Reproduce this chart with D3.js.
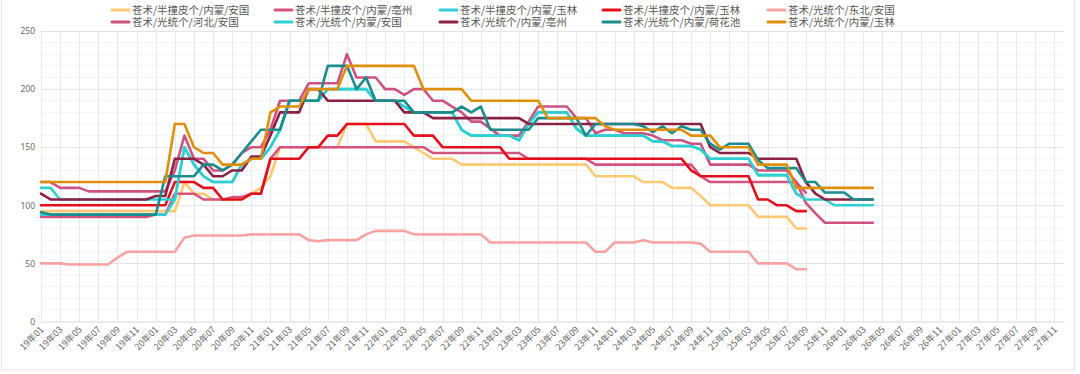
<!DOCTYPE html>
<html><head><meta charset="utf-8">
<script src="https://cdn.jsdelivr.net/npm/d3@7"></script>
<style>body{margin:0;background:#fff}svg{display:block}</style>
</head><body><svg id="c" width="1080" height="374"></svg>
<script>
const yearLabels = ["19","20","21","22","23","24","25","26","27"];
const monthLabels = ["01","02","03","04","05","06","07","08","09","10","11","12"];
const categories = yearLabels.flatMap(y => monthLabels.map(m => y + "年" + m));
const tickLabels = categories.filter((d, i) => i % 2 === 0);
const yTicks = [0, 50, 100, 150, 200, 250];

const seriesNames = [
  "苍术/半撞皮个/内蒙/安国", "苍术/半撞皮个/内蒙/亳州", "苍术/半撞皮个/内蒙/玉林",
  "苍术/半撞皮个/内蒙/玉林", "苍术/光统个/东北/安国", "苍术/光统个/河北/安国",
  "苍术/光统个/内蒙/安国", "苍术/光统个/内蒙/亳州", "苍术/光统个/内蒙/荷花池",
  "苍术/光统个/内蒙/玉林"
];
const seriesColors = ["#ffc874", "#d4547f", "#32d0d6", "#e3101b", "#f7a3a3",
  "#cc5282", "#30cfd2", "#8b2045", "#1b8b8c", "#e08f0d"];

const s1 = [95,95,95,95,95,95,95,95,95,95,95,95,95,95,
  95,120,110,110,105,105,105,105,110,115,
  125,150,150,150,150,150,150,150,
  170,170,170,155,155,155,155,150,145,140,140,140,
  135,135,135,135,135,135,135,135,135,135,135,135,135,135,
  125,125,125,125,125,120,120,120,115,115,115,108,
  100,100,100,100,100,90,90,90,90,80,80];
const s2 = [90,90,90,90,90,90,90,90,90,90,90,90,
  92,92,110,110,110,105,105,105,107,107,110,110,
  140,150,150,150,150,150,150,150,150,150,150,150,150,150,150,150,150,
  145,145,145,145,145,145,145,145,145,145,
  140,140,140,140,140,140,140,
  135,135,135,135,135,135,135,135,135,135,135,
  125,120,120,120,120,120,120,120,120,120,120,111];
const s3 = [92,92,92,92,92,92,92,92,92,92,92,92,92,92,
  105,150,135,125,120,120,120,135,140,140,150,165,
  190,190,190,190,200,200,200,200,200,190,190,190,185,
  180,180,180,180,180,165,160,160,160,160,160,156,170,
  180,180,180,180,166,160,160,160,160,160,160,160,
  155,155,151,151,151,148,140,140,140,140,140,
  126,126,126,126,110,105];
const s4 = [100,100,100,100,100,100,100,100,100,100,100,100,100,100,
  120,120,120,115,115,105,105,105,110,110,
  140,140,140,140,150,150,160,160,
  170,170,170,170,170,170,170,
  160,160,160,
  150,150,150,150,150,150,150,
  140,140,140,140,140,140,140,140,140,140,140,140,140,140,140,140,140,140,140,
  130,125,125,125,125,125,125,105,105,100,100,95,95];
const s5 = [50,50,50,49,49,49,49,49,55,60,60,60,60,60,60,
  72,74,74,74,74,74,74,75,75,75,75,75,75,
  70,69,70,70,70,70,75,78,78,78,78,
  75,75,75,75,75,75,75,75,
  68,68,68,68,68,68,68,68,68,68,68,
  60,60,68,68,68,70,68,68,68,68,68,67,
  60,60,60,60,60,50,50,50,50,45,45];
const s6 = [120,120,115,115,115,112,112,112,112,112,112,112,112,112,
  130,160,140,140,130,130,135,145,150,150,165,190,190,190,
  205,205,205,205,230,210,210,210,200,200,195,200,200,
  190,190,185,180,172,172,166,160,160,160,172,185,185,185,185,175,175,
  162,165,165,162,162,162,160,156,156,156,153,153,
  135,135,135,135,135,130,130,130,130,120,102,93,85,85,85,85,85,85];
const s7 = [115,115,105,105,105,105,105,105,105,105,105,105,105,105,105,
  150,135,125,120,120,120,135,140,140,150,165,
  190,190,190,190,200,200,200,200,200,190,190,190,185,
  180,180,180,180,180,165,160,160,160,160,160,156,170,
  180,180,180,180,166,160,160,160,160,160,160,160,
  155,155,151,151,151,148,140,140,140,140,140,
  126,126,126,126,110,105,105,105,100,100,100,100,100];
const s8 = [110,105,105,105,105,105,105,105,105,105,105,105,108,108,
  140,140,140,135,125,125,130,130,142,142,160,180,180,180,
  200,200,190,190,190,190,190,190,190,190,180,180,180,
  175,175,175,175,175,175,175,175,175,175,
  170,170,170,170,170,170,170,170,170,170,170,170,170,170,170,170,170,170,170,
  150,145,145,145,145,140,140,140,140,140,120,110,105,105,105,105,105,105];
const s9 = [94,92,92,92,92,92,92,92,92,92,92,92,92,
  125,125,125,125,135,135,130,135,145,155,165,165,165,
  190,190,190,190,220,220,220,200,210,190,190,190,190,
  180,180,180,180,180,185,180,185,165,165,165,165,165,
  175,175,175,175,175,160,170,170,170,170,170,168,163,168,162,168,
  165,165,153,148,153,153,153,139,132,132,132,132,120,120,111,111,111,105,105,105];
const s10 = [120,120,120,120,120,120,120,120,120,120,120,120,120,120,
  170,170,150,145,145,135,135,135,140,140,180,185,185,185,
  200,200,200,200,220,220,220,220,220,220,220,220,
  200,200,200,200,200,190,190,190,190,190,190,190,190,
  175,175,175,175,175,175,168,165,165,165,165,165,165,165,165,
  160,160,160,150,150,150,150,135,135,135,135,115,115,115,115,115,115,115,115,115];
const seriesValues = [s1, s2, s3, s4, s5, s6, s7, s8, s9, s10];

const svg = d3.select("#c");
const plotL = 41, plotR = 1064, plotT = 31, plotB = 321.5;
const x = d3.scalePoint().domain(categories).range([plotL, plotR]);
const y = d3.scaleLinear().domain([0, 250]).range([plotB, plotT]);

svg.append("rect").attr("x", 1.5).attr("y", -2).attr("width", 1073).attr("height", 372)
  .attr("fill", "none").attr("stroke", "#e2e2e2");

const g = svg.append("g");
g.selectAll(".hm").data(d3.range(0, 251, 10).filter(v => v % 50 !== 0)).join("line")
  .attr("x1", plotL).attr("x2", plotR).attr("y1", d => y(d)).attr("y2", d => y(d))
  .attr("stroke", "#f3f3f3").attr("stroke-width", 1);
g.selectAll(".vg").data(tickLabels).join("line")
  .attr("x1", d => Math.round(x(d)) + 0.5).attr("x2", d => Math.round(x(d)) + 0.5)
  .attr("y1", plotT).attr("y2", plotB)
  .attr("stroke", "#e9e9e9").attr("stroke-width", 1);
g.selectAll(".hg").data(yTicks.slice(1)).join("line")
  .attr("x1", plotL).attr("x2", plotR).attr("y1", d => Math.round(y(d)) + 0.5).attr("y2", d => Math.round(y(d)) + 0.5)
  .attr("stroke", "#e4e4e4").attr("stroke-width", 1);

const yAxis = svg.append("g").attr("transform", `translate(${plotL},0)`)
  .call(d3.axisLeft(y).tickValues(yTicks).tickSize(0).tickPadding(6));
yAxis.select(".domain").remove();
yAxis.selectAll("text").attr("fill", "#666").attr("font-size", 8.5)
  .attr("font-family", "'Noto Sans', sans-serif");

const xAxis = svg.append("g").attr("transform", `translate(0,${plotB})`)
  .call(d3.axisBottom(x).tickValues(tickLabels).tickSize(0).tickPadding(4));
xAxis.select(".domain").attr("stroke", "#d6d6d6");
xAxis.selectAll("text").attr("fill", "#666").attr("font-size", 9)
  .attr("font-family", "'Noto Sans CJK SC', sans-serif")
  .attr("text-anchor", "end").attr("dy", "0.3em")
  .attr("transform", "translate(-2,4) rotate(-45)");

const line = d3.line().x((d, i) => x(categories[i])).y(d => y(d));
seriesValues.forEach((vals, k) => {
  svg.append("path").datum(vals).attr("d", line)
    .attr("fill", "none").attr("stroke", seriesColors[k]).attr("stroke-width", 2.6)
    .attr("stroke-linejoin", "round").attr("stroke-linecap", "round");
});

const legX = [112, 275, 440, 603, 768];
const legY = [10, 22];
seriesNames.forEach((n, k) => {
  const col = k % 5, row = Math.floor(k / 5);
  const lg = svg.append("g").attr("transform", `translate(${legX[col]},${legY[row]})`);
  lg.append("line").attr("x1", 0).attr("x2", 17).attr("y1", 0).attr("y2", 0)
    .attr("stroke", seriesColors[k]).attr("stroke-width", 3).attr("stroke-linecap", "round");
  lg.append("text").attr("x", 20).attr("y", 0).attr("dy", "0.35em")
    .attr("font-size", 10.5).attr("fill", "#555")
    .attr("font-family", "'Noto Sans CJK SC', sans-serif").text(n);
});
</script></body></html>
